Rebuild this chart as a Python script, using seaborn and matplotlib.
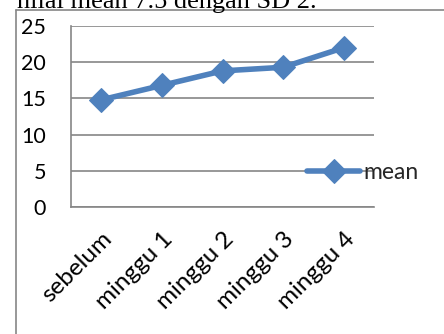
import matplotlib
matplotlib.use("Agg")
import matplotlib.pyplot as plt
import matplotlib.transforms as mtransforms
import seaborn as sns
import pandas as pd

categories = ["sebelum", "minggu 1", "minggu 2", "minggu 3", "minggu 4"]
mean_values = [14.8, 16.8, 18.8, 19.3, 22.0]
y_ticks = [0, 5, 10, 15, 20, 25]

sns.set_theme(style="white")
plt.rcParams['font.family'] = ['Lato', 'DejaVu Sans']

df = pd.DataFrame({"cat": categories, "mean": mean_values})

fig = plt.figure(figsize=(4.44, 3.34), dpi=100)
ax = fig.add_axes([71/444, 1-207/334, (374-71)/444, (207-26)/334])

sns.lineplot(data=df, x="cat", y="mean", ax=ax, color="#4F81BD", linewidth=4.0,
             marker="D", markersize=12.5, markeredgecolor="#4F81BD", label="mean",
             sort=False)

ax.set_xlim(-0.5, len(categories) - 0.5)
ax.set_ylim(0, 25)
ax.set_yticks(y_ticks)
ax.set_yticklabels([str(v) for v in y_ticks])
ax.set_xticks([i - 0.5 for i in range(len(categories) + 1)], minor=False)
ax.set_xticklabels([""] * (len(categories) + 1))
ax.set_xticks(range(len(categories)), minor=True)
ax.set_xticklabels(categories, minor=True, rotation=45, ha="right",
                   rotation_mode="anchor", fontsize=17.5, color="black")
offset = mtransforms.ScaledTranslation(-4/100, 0, fig.dpi_scale_trans)
for lbl in ax.get_xticklabels(minor=True):
    lbl.set_transform(lbl.get_transform() + offset)
ax.tick_params(axis="x", which="minor", length=0, pad=15)
ax.tick_params(axis="x", which="major", length=6, width=1.2, color="#868686", direction="out")
ax.tick_params(axis="y", length=6, width=1.2, color="#868686", direction="out",
               labelsize=15.5, labelcolor="black", pad=12)
ax.set_xlabel("")
ax.set_ylabel("")
ax.yaxis.grid(True, color="#868686", linewidth=1.2)
ax.xaxis.grid(False)
for s in ["top", "right"]:
    ax.spines[s].set_visible(False)
for s in ["left", "bottom"]:
    ax.spines[s].set_color("#868686")
    ax.spines[s].set_linewidth(1.2)

leg = ax.legend(loc="center left", bbox_to_anchor=(0.78, 0.19), frameon=False,
                handlelength=2.3, handletextpad=0.15, fontsize=16.5, borderaxespad=0,
                borderpad=0, numpoints=1)

# outer frame
fig.add_artist(plt.Line2D([16/444, 16/444], [0, 1-10/334], color="#868686", linewidth=1.2,
                          transform=fig.transFigure))
fig.add_artist(plt.Line2D([16/444, 1], [1-10/334, 1-10/334], color="#868686", linewidth=1.2,
                          transform=fig.transFigure))

fig.text(17/444, 1-8/334, "nilai mean 7.5 dengan SD 2.", family=["Liberation Serif"],
         fontsize=19, va="baseline", ha="left", color="black")

fig.savefig("out.png", dpi=100)
